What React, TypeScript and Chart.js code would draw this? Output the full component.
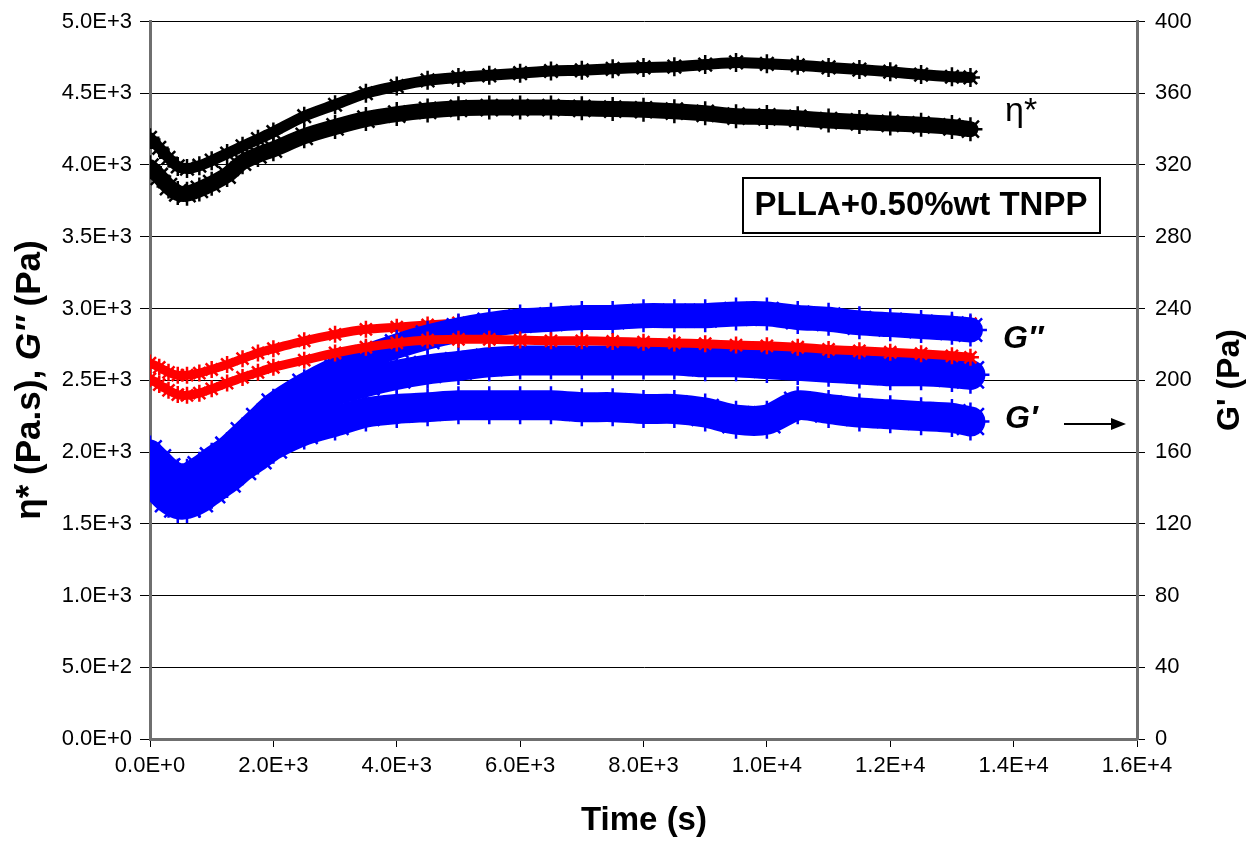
import React, { useEffect, useRef } from "react";
import { Chart, registerables } from "chart.js";

Chart.register(...registerables);

// Time (s)
const time = [0, 150, 300, 450, 600, 800, 1000, 1250, 1500, 1750, 2000, 2500, 3000, 3500, 4000, 4500, 5000, 5500, 6000, 6500, 7000, 7500, 8000, 8500, 9000, 9500, 10000, 10500, 11000, 11500, 12000, 12500, 13000, 13300];

// eta* (Pa.s) - left axis
const eta1 = [4190, 4120, 4050, 3990, 3975, 3995, 4030, 4080, 4130, 4180, 4230, 4340, 4420, 4500, 4550, 4590, 4610, 4625, 4640, 4655, 4660, 4670, 4680, 4685, 4700, 4715, 4705, 4695, 4680, 4665, 4650, 4630, 4615, 4610];
const eta2 = [3985, 3920, 3850, 3805, 3800, 3830, 3870, 3930, 4020, 4070, 4110, 4200, 4265, 4320, 4355, 4380, 4395, 4400, 4400, 4400, 4395, 4390, 4385, 4375, 4360, 4340, 4335, 4325, 4310, 4300, 4290, 4280, 4265, 4250];

// G'' (Pa) - left axis
const gpp1 = [2620, 2590, 2555, 2535, 2535, 2550, 2575, 2610, 2650, 2690, 2720, 2775, 2820, 2855, 2870, 2885, 2900, 2910, 2915, 2915, 2920, 2925, 2930, 2935, 2940, 2945, 2945, 2935, 2925, 2915, 2910, 2905, 2900, 2895];
const gpp2 = [2510, 2470, 2430, 2400, 2395, 2410, 2440, 2480, 2520, 2555, 2590, 2640, 2690, 2730, 2760, 2780, 2785, 2785, 2780, 2775, 2775, 2770, 2765, 2760, 2755, 2745, 2740, 2730, 2715, 2705, 2695, 2685, 2670, 2660];

// G' (Pa) - right axis
const gp1 = [160, 155, 150, 147, 147, 151, 156, 162, 170, 178, 186, 197, 206, 213, 219, 224, 228, 231, 233, 234, 235, 235, 236, 236, 236, 237, 237, 235, 234, 232, 231, 230, 229, 228];
const gp2 = [152, 146, 140, 137, 137, 140, 146, 153, 160, 168, 175, 186, 194, 199, 203, 206, 208, 210, 211, 211, 211, 211, 211, 211, 210, 210, 209, 208, 207, 206, 205, 205, 204, 203];
const gp3 = [145, 139, 134, 131, 131, 134, 139, 145, 152, 158, 164, 172, 177, 182, 184, 185, 186, 186, 186, 186, 185, 185, 184, 184, 182, 178, 178, 186, 184, 182, 181, 180, 179, 177];

const FONT = '"Liberation Sans", Arial, sans-serif';

function sci(v: number): string {
  if (v === 0) return "0.0E+0";
  const e = Math.floor(Math.log10(Math.abs(v)) + 1e-9);
  const m = v / Math.pow(10, e);
  return m.toFixed(1) + "E+" + e;
}

function pts(ys: number[]) {
  return time.map((t, i) => ({ x: t, y: ys[i] }));
}

function ds(label: string, ys: number[], color: string, width: number, axis: string) {
  return {
    label,
    data: pts(ys),
    yAxisID: axis,
    showLine: true,
    borderColor: color,
    backgroundColor: color,
    borderWidth: width,
    tension: 0.25,
    borderCapStyle: "round" as const,
    borderJoinStyle: "round" as const,
    pointStyle: "star" as const,
    pointRadius: width / 2 + 4,
    pointBorderWidth: 2.5,
    pointBorderColor: color,
    pointBackgroundColor: color,
  };
}

const annotations = {
  id: "annotations",
  afterDraw(chart: any) {
    const ctx = chart.ctx as CanvasRenderingContext2D;
    ctx.save();
    ctx.fillStyle = "#000";
    ctx.strokeStyle = "#000";
    ctx.textBaseline = "middle";

    // eta* label
    ctx.font = `34px ${FONT}`;
    ctx.textAlign = "left";
    ctx.fillText("η*", 1005, 112);

    // Box
    ctx.lineWidth = 2;
    ctx.strokeRect(743, 178, 357, 55);
    ctx.font = `bold 33px ${FONT}`;
    ctx.textAlign = "center";
    ctx.fillText("PLLA+0.50%wt TNPP", 921, 206);

    // G'' and G'
    ctx.font = `italic bold 32px ${FONT}`;
    ctx.textAlign = "left";
    ctx.fillText("G″", 1003, 339);
    ctx.fillText("G′", 1005, 419);

    // Arrow
    ctx.lineWidth = 2;
    ctx.beginPath();
    ctx.moveTo(1064, 424);
    ctx.lineTo(1114, 424);
    ctx.stroke();
    ctx.beginPath();
    ctx.moveTo(1126, 424);
    ctx.lineTo(1111, 418);
    ctx.lineTo(1111, 430);
    ctx.closePath();
    ctx.fill();

    // X title
    ctx.font = `bold 33px ${FONT}`;
    ctx.textAlign = "center";
    ctx.fillText("Time (s)", 644, 821);

    // Left title (mixed style), rotated
    ctx.save();
    ctx.translate(30, 380);
    ctx.rotate(-Math.PI / 2);
    const parts = [
      { t: "η* (Pa.s), ", f: `bold 35px ${FONT}` },
      { t: "G″", f: `italic bold 35px ${FONT}` },
      { t: " (Pa)", f: `bold 35px ${FONT}` },
    ];
    let total = 0;
    for (const p of parts) {
      ctx.font = p.f;
      total += ctx.measureText(p.t).width;
    }
    let x = -total / 2;
    ctx.textAlign = "left";
    for (const p of parts) {
      ctx.font = p.f;
      ctx.fillText(p.t, x, 0);
      x += ctx.measureText(p.t).width;
    }
    ctx.restore();

    // Right title
    ctx.save();
    ctx.translate(1230, 380);
    ctx.rotate(-Math.PI / 2);
    ctx.font = `bold 32px ${FONT}`;
    ctx.textAlign = "center";
    ctx.fillText("G' (Pa)", 0, 0);
    ctx.restore();

    ctx.restore();
  },
};

export default function App() {
  const ref = useRef<HTMLCanvasElement | null>(null);

  useEffect(() => {
    document.body.style.margin = "0";
    const canvas = ref.current;
    if (!canvas) return;
    const chart = new Chart(canvas, {
      type: "scatter",
      data: {
        datasets: [
          ds("eta1", eta1, "#000000", 11, "y"),
          ds("eta2", eta2, "#000000", 16, "y"),
          ds("gpp2", gpp2, "#ff0000", 9, "y"),
          ds("gp1", gp1, "#0000ff", 25, "y2"),
          ds("gp2", gp2, "#0000ff", 30, "y2"),
          ds("gp3", gp3, "#0000ff", 30, "y2"),
          ds("gpp1", gpp1, "#ff0000", 9, "y"),
        ] as any,
      },
      options: {
        responsive: false,
        animation: false,
        layout: { padding: { top: 8, left: 0, right: 0, bottom: 0 } },
        plugins: {
          legend: { display: false },
          tooltip: { enabled: false },
          title: { display: false },
        },
        scales: {
          x: {
            type: "linear",
            min: 0,
            max: 16000,
            ticks: {
              stepSize: 2000,
              color: "#000",
              font: { family: FONT, size: 22 },
              padding: 6,
              maxRotation: 0,
              callback: (v: any) => sci(Number(v)),
            },
            grid: { drawOnChartArea: false, tickLength: 8, color: "#000", lineWidth: 1 },
            border: { display: true, color: "#6f6f6f", width: 3 },
            afterFit: (s: any) => {
              s.height = 102;
            },
          },
          y: {
            type: "linear",
            position: "left",
            min: 0,
            max: 5000,
            ticks: {
              stepSize: 500,
              color: "#000",
              font: { family: FONT, size: 22, lineHeight: 1 },
              padding: 8,
              callback: (v: any) => sci(Number(v)),
            },
            grid: { color: "#000", lineWidth: 1, tickLength: 10 },
            border: { display: true, color: "#6f6f6f", width: 3 },
            afterFit: (s: any) => {
              s.width = 150;
            },
          },
          y2: {
            type: "linear",
            position: "right",
            min: 0,
            max: 400,
            ticks: {
              stepSize: 40,
              color: "#000",
              font: { family: FONT, size: 22, lineHeight: 1 },
              padding: 10,
            },
            grid: { drawOnChartArea: false, color: "#000", lineWidth: 1, tickLength: 8 },
            border: { display: true, color: "#6f6f6f", width: 3 },
            afterFit: (s: any) => {
              s.width = 116;
            },
          },
        },
      } as any,
      plugins: [annotations],
    });
    return () => chart.destroy();
  }, []);

  return (
    <div style={{ width: 1253, height: 841, background: "#fff" }}>
      <canvas ref={ref} width={1253} height={841} />
    </div>
  );
}
